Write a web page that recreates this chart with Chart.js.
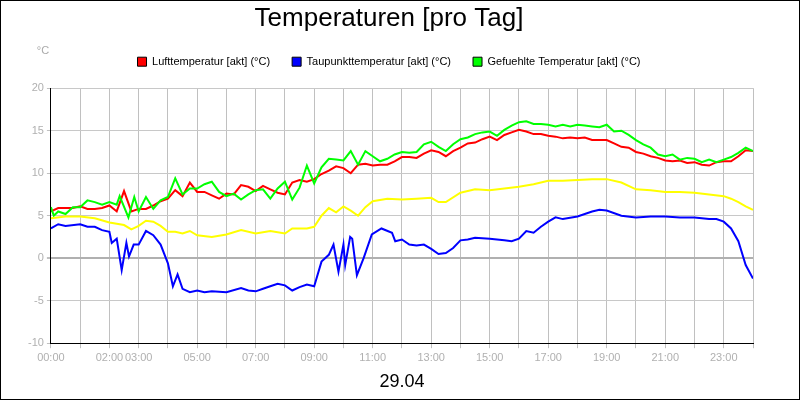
<!DOCTYPE html>
<html>
<head>
<meta charset="utf-8">
<script src="https://cdn.jsdelivr.net/npm/chart.js@4.4.0/dist/chart.umd.min.js"></script>
<style>
  html, body { margin: 0; padding: 0; background: #fff; }
  #wrap { width: 798px; height: 398px; border: 1px solid #000; }
</style>
</head>
<body>
<div id="wrap"><canvas id="c" width="798" height="398"></canvas></div>
<script>
// times in hours, values in °C
const seriesNames = ['Lufttemperatur [akt] (°C)', 'Taupunkttemperatur [akt] (°C)', 'Gefuehlte Temperatur [akt] (°C)', 'Feuchtkugeltemperatur [akt] (°C)'];
const seriesColors = ['#ff0000', '#0000ff', '#00ff00', '#ffff00'];
const hourLabels = [0, 2, 3, 5, 7, 9, 11, 13, 15, 17, 19, 21, 23];

const quarterTimes = [];
for (let i = 0; i <= 96; i++) quarterTimes.push(i / 4);

const airV = [5.5, 5.9, 5.9, 5.9, 6.1, 5.8, 5.8, 5.9, 6.2, 5.5, 7.9, 5.5,
  5.8, 5.8, 6.2, 6.7, 7.0, 8.0, 7.3, 8.9, 7.8, 7.8, 7.4, 7.0,
  7.6, 7.5, 8.6, 8.4, 7.9, 8.5, 8.1, 7.7, 7.5, 8.9, 9.2, 9.0,
  9.3, 9.9, 10.3, 10.8, 10.6, 10.0, 11.0, 11.1, 10.9, 11.0, 11.0, 11.4,
  11.9, 11.9, 11.8, 12.3, 12.7, 12.5, 12.0, 12.6, 13.0, 13.5, 13.6, 14.0,
  14.3, 13.9, 14.5, 14.8, 15.1, 14.9, 14.6, 14.6, 14.4, 14.3, 14.1, 14.2,
  14.1, 14.2, 13.9, 13.9, 13.9, 13.5, 13.1, 13.0, 12.5, 12.3, 12.0, 11.8,
  11.5, 11.4, 11.5, 11.2, 11.3, 11.0, 10.9, 11.3, 11.4, 11.4, 12.0, 12.7, 12.6];

const feltT = [0, 0.1, 0.25, 0.5, 0.75, 1, 1.25, 1.5, 1.75, 2, 2.25, 2.35, 2.65, 2.85, 3, 3.25, 3.5, 3.75,
  4, 4.25, 4.5, 4.75, 5, 5.25, 5.5, 5.75, 6, 6.25, 6.5, 6.75, 7, 7.25, 7.5, 7.75, 8, 8.25, 8.5, 8.75,
  9, 9.25, 9.5, 9.75, 10, 10.25, 10.5, 10.75, 11, 11.25, 11.5, 11.75, 12, 12.25, 12.5, 12.75, 13, 13.25,
  13.5, 13.75, 14, 14.25, 14.5, 14.75, 15, 15.25, 15.5, 15.75, 16, 16.25, 16.5, 16.75, 17, 17.25, 17.5,
  17.75, 18, 18.25, 18.5, 18.75, 19, 19.25, 19.5, 19.75, 20, 20.25, 20.5, 20.75, 21, 21.25, 21.5, 21.75,
  22, 22.25, 22.5, 22.75, 23, 23.25, 23.5, 23.75, 24];
const feltV = [6.0, 5.0, 5.5, 5.2, 6.0, 6.0, 6.8, 6.6, 6.3, 6.6, 6.3, 7.3, 4.8, 7.2, 5.5, 7.2, 5.8, 6.8,
  7.2, 9.4, 7.5, 8.2, 8.2, 8.7, 9.0, 7.8, 7.3, 7.6, 6.9, 7.5, 8.0, 8.1, 7.0, 8.2, 9.0, 6.9, 8.3, 10.9,
  8.8, 10.7, 11.7, 11.6, 11.5, 12.6, 11.0, 12.6, 12.0, 11.4, 11.7, 12.2, 12.5, 12.4, 12.5, 13.4, 13.7, 13.1,
  12.6, 13.4, 14.0, 14.2, 14.6, 14.8, 14.9, 14.4, 15.1, 15.6, 16.0, 16.1, 15.8, 15.8, 15.7, 15.5, 15.7,
  15.5, 15.7, 15.6, 15.5, 15.4, 15.7, 14.9, 15.0, 14.5, 13.9, 13.4, 13.0, 12.2, 12.0, 12.2, 11.6, 11.8,
  11.7, 11.3, 11.6, 11.3, 11.6, 11.9, 12.4, 13.0, 12.6];

const wetT = [0, 0.5, 1, 1.5, 2, 2.5, 2.75, 3, 3.25, 3.5, 3.75, 4, 4.25, 4.5, 4.75, 5, 5.5, 6, 6.5, 7, 7.5, 8,
  8.25, 8.75, 9, 9.25, 9.5, 9.75, 10, 10.25, 10.5, 10.75, 11, 11.5, 12, 12.5, 13, 13.25, 13.5, 14, 14.5,
  15, 15.5, 16, 16.5, 17, 17.5, 18, 18.5, 19, 19.5, 20, 20.5, 21, 21.5, 22, 22.5, 23, 23.25, 23.5, 23.75, 24];
const wetV = [4.7, 4.9, 4.9, 4.7, 4.2, 3.9, 3.4, 3.8, 4.4, 4.3, 3.8, 3.1, 3.1, 2.9, 3.2, 2.7, 2.5, 2.8, 3.3, 2.9, 3.2, 2.9,
  3.5, 3.5, 3.7, 5.0, 5.9, 5.4, 6.1, 5.6, 5.0, 6.0, 6.7, 7.0, 6.9, 7.0, 7.1, 6.6, 6.6, 7.7, 8.1,
  8.0, 8.2, 8.4, 8.7, 9.1, 9.1, 9.2, 9.3, 9.3, 8.9, 8.1, 8.0, 7.8, 7.8, 7.7, 7.5, 7.3, 7.0, 6.6, 6.1, 5.7];

const dewT = [0, 0.25, 0.5, 1, 1.25, 1.5, 1.75, 2, 2.08, 2.25, 2.42, 2.58, 2.67, 2.83, 3, 3.25, 3.5, 3.75,
  4, 4.17, 4.33, 4.5, 4.75, 5, 5.25, 5.5, 6, 6.5, 6.75, 7, 7.25, 7.5, 7.75, 8, 8.25, 8.5, 8.75, 9,
  9.25, 9.5, 9.66, 9.83, 10, 10.06, 10.23, 10.3, 10.46, 10.69, 10.97, 11.3, 11.66, 11.77, 12, 12.25, 12.5,
  12.75, 13, 13.25, 13.5, 13.75, 14, 14.25, 14.5, 15, 15.5, 15.75, 16, 16.25, 16.5, 16.75, 17, 17.25,
  17.5, 18, 18.5, 18.75, 19, 19.5, 20, 20.5, 21, 21.5, 22, 22.5, 22.75, 23, 23.25, 23.5, 23.75, 24];
const dewV = [3.5, 4.0, 3.8, 4.0, 3.7, 3.7, 3.3, 3.1, 1.8, 2.3, -1.4, 1.8, 0.2, 1.6, 1.6, 3.2, 2.7, 1.6,
  -0.6, -3.3, -1.9, -3.6, -4.0, -3.8, -4.0, -3.9, -4.0, -3.5, -3.8, -3.9, -3.6, -3.3, -3.0, -3.2, -3.8, -3.4, -3.1, -3.3,
  -0.4, 0.4, 1.6, -1.6, 1.6, -0.8, 2.5, 2.3, -2.0, 0.0, 2.8, 3.5, 3.0, 2.0, 2.2, 1.6, 1.5,
  1.6, 1.1, 0.5, 0.6, 1.2, 2.1, 2.2, 2.4, 2.3, 2.1, 2.0, 2.3, 3.2, 3.0, 3.7, 4.3, 4.8,
  4.6, 4.9, 5.5, 5.7, 5.6, 5.0, 4.8, 4.9, 4.9, 4.8, 4.8, 4.6, 4.6, 4.3, 3.5, 2.0, -0.8, -2.4];

const pts = (t, v) => t.map((x, i) => ({ x: x, y: v[i] }));

// legend: keep the wide horizontal gaps but not the tall vertical padding
const tightLegend = {
  id: 'tightLegend',
  afterInit(chart) {
    const lg = chart.legend;
    const fit = lg.fit.bind(lg);
    lg.fit = function () { fit(); this.height -= 22; };
  }
};

const extraText = {
  id: 'extraText',
  afterDraw(chart) {
    const ctx = chart.ctx;
    ctx.save();
    ctx.fillStyle = '#aaaaaa';
    ctx.font = '11px "Liberation Sans", Arial';
    ctx.textAlign = 'center';
    ctx.fillText('°C', 42, 50);
    ctx.restore();
  }
};

new Chart(document.getElementById('c'), {
  type: 'line',
  data: {
    datasets: [
      { label: seriesNames[0], data: pts(quarterTimes, airV) },
      { label: seriesNames[1], data: pts(dewT, dewV) },
      { label: seriesNames[2], data: pts(feltT, feltV) },
      { label: seriesNames[3], data: pts(wetT, wetV) }
    ].map((d, i) => Object.assign(d, {
      borderColor: seriesColors[i], backgroundColor: seriesColors[i],
      borderWidth: 2, pointRadius: 0, tension: 0, fill: false
    })).reverse()
  },
  options: {
    responsive: false,
    animation: false,
    layout: { padding: { left: 24, right: 46, top: 0, bottom: 0 } },
    plugins: {
      title: {
        display: true, text: 'Temperaturen [pro Tag]', color: '#000',
        font: { family: '"Liberation Sans", Arial', size: 26, weight: 'normal' },
        padding: { top: 2, bottom: 0 }
      },
      legend: {
        display: true, reverse: true,
        labels: {
          color: '#000', boxWidth: 9, boxHeight: 9, padding: 22,
          font: { family: '"Liberation Sans", Arial', size: 11 },
          generateLabels(chart) {
            return chart.data.datasets.map((d, i) => ({
              text: d.label, fillStyle: d.borderColor, strokeStyle: '#000',
              lineWidth: 1, datasetIndex: i
            }));
          }
        }
      },
      tooltip: { enabled: false }
    },
    scales: {
      x: {
        type: 'linear', min: 0, max: 24,
        border: { color: '#000', width: 1 },
        grid: { color: '#c0c0c0', tickLength: 5, tickColor: '#c0c0c0' },
        ticks: {
          stepSize: 1, autoSkip: false, maxRotation: 0, color: '#b0b0b0',
          font: { family: '"Liberation Sans", Arial', size: 11 },
          callback: v => hourLabels.includes(v) ? String(v).padStart(2, '0') + ':00' : ''
        },
        title: {
          display: true, text: '29.04', color: '#000',
          font: { family: '"Liberation Sans", Arial', size: 18 }, padding: { top: 4, bottom: 6 }
        }
      },
      y: {
        min: -10, max: 20,
        border: { color: '#000', width: 1 },
        grid: {
          color: ctx => ctx.tick && ctx.tick.value === 0 ? '#b0b0b0' : '#c8c8c8',
          lineWidth: ctx => ctx.tick && ctx.tick.value === 0 ? 2 : 1,
          tickLength: 4, tickColor: '#c0c0c0'
        },
        ticks: {
          stepSize: 5, color: '#b0b0b0',
          font: { family: '"Liberation Sans", Arial', size: 11 }
        }
      }
    }
  },
  plugins: [tightLegend, extraText]
});
</script>
</body>
</html>
